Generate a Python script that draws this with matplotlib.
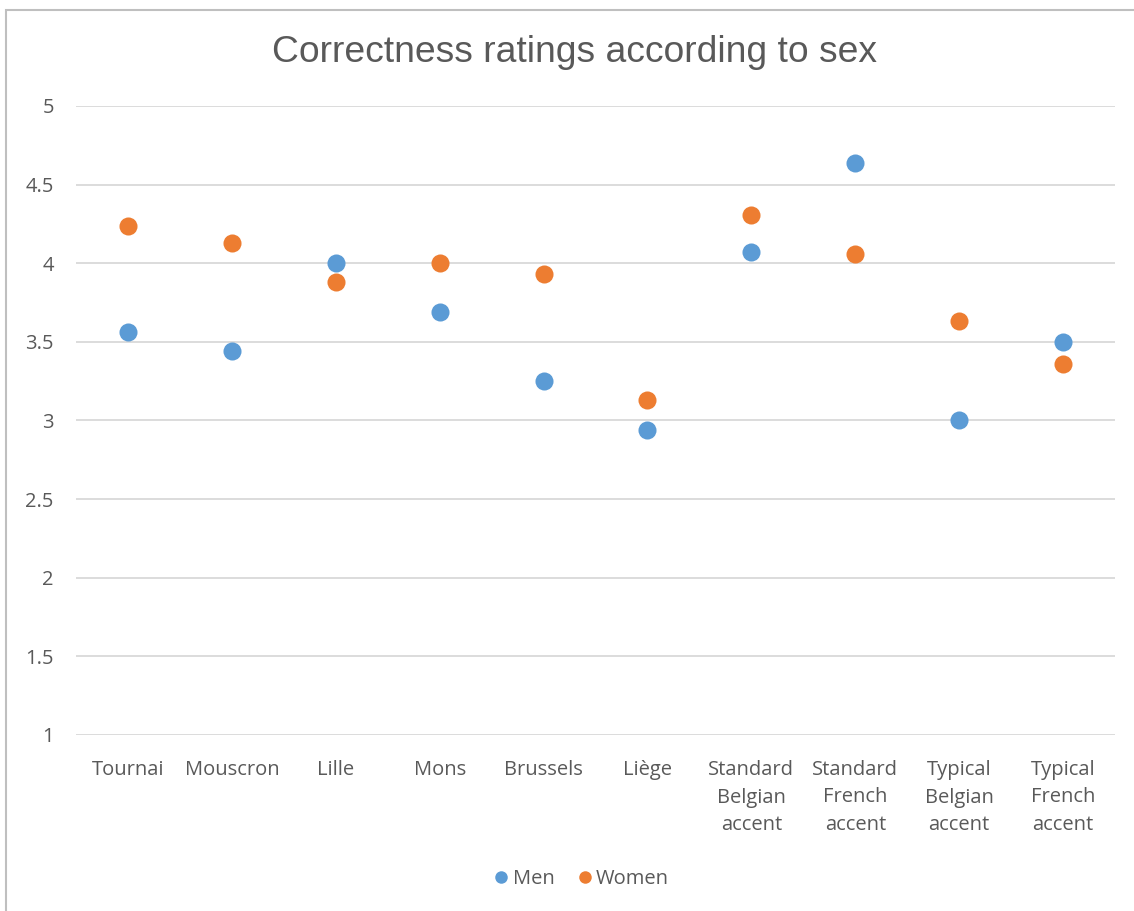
import matplotlib
matplotlib.use("Agg")
import matplotlib.pyplot as plt
from matplotlib.lines import Line2D
from matplotlib.patches import Rectangle

categories = ["Tournai", "Mouscron", "Lille", "Mons", "Brussels", "Liège",
              "Standard\nBelgian\naccent", "Standard\nFrench\naccent",
              "Typical\nBelgian\naccent", "Typical\nFrench\naccent"]
men = [3.56, 3.44, 4.00, 3.69, 3.25, 2.94, 4.07, 4.64, 3.00, 3.50]
women = [4.24, 4.13, 3.88, 4.00, 3.93, 3.13, 4.31, 4.06, 3.63, 3.36]
y_ticks = [1, 1.5, 2, 2.5, 3, 3.5, 4, 4.5, 5]
y_labels = ["1", "1.5", "2", "2.5", "3", "3.5", "4", "4.5", "5"]

MEN_C = "#5B9BD5"
WOMEN_C = "#ED7D31"
TEXT_C = "#595959"
GRID_C = "#D9D9D9"
LABEL_FONT = ["Open Sans", "DejaVu Sans"]
TITLE_FONT = ["Liberation Sans", "DejaVu Sans"]

W, H = 1134, 911
fig = plt.figure(figsize=(W / 100, H / 100), dpi=100)

# chart frame
fig.patches.append(Rectangle((6 / W, -0.1), 2.0, (H - 10) / H + 0.1,
                             transform=fig.transFigure, fill=False,
                             edgecolor="#BFBFBF", linewidth=1.5))

left, right, top, bottom = 76, 1115, 106, 735
ax = fig.add_axes([left / W, 1 - bottom / H, (right - left) / W, (bottom - top) / H])

x = list(range(len(categories)))
ax.plot(x, men, linestyle="none", marker="o", markersize=13,
        color=MEN_C, markeredgewidth=0, zorder=3)
ax.plot(x, women, linestyle="none", marker="o", markersize=13,
        color=WOMEN_C, markeredgewidth=0, zorder=3)

ax.set_xlim(-0.5, len(categories) - 0.5)
ax.set_ylim(1, 5)
ax.set_yticks(y_ticks)
ax.set_yticklabels(y_labels)
ax.set_xticks(x)
ax.set_xticklabels(categories, linespacing=1.5)
ax.yaxis.grid(True, color=GRID_C, linewidth=1.3)
ax.set_axisbelow(True)
for s in ax.spines.values():
    s.set_visible(False)
ax.tick_params(axis="both", length=0, colors=TEXT_C, labelsize=14.5)
ax.tick_params(axis="y", pad=16)
ax.tick_params(axis="x", pad=18)
for lab in ax.get_xticklabels() + ax.get_yticklabels():
    lab.set_family(LABEL_FONT)

fig.text(575 / W, 1 - 52 / H, "Correctness ratings according to sex",
         ha="center", va="center", fontsize=26.8, color=TEXT_C, family=TITLE_FONT)

handles = [Line2D([], [], linestyle="none", marker="o", markersize=9,
                  color=MEN_C, markeredgewidth=0, label="Men"),
           Line2D([], [], linestyle="none", marker="o", markersize=9,
                  color=WOMEN_C, markeredgewidth=0, label="Women")]
leg = fig.legend(handles=handles, loc="center", bbox_to_anchor=(580 / W, 1 - 879 / H),
                 ncol=2, frameon=False, handletextpad=0.05, columnspacing=1.0,
                 handlelength=1.0, prop={"family": LABEL_FONT, "size": 14.5})
for t in leg.get_texts():
    t.set_color(TEXT_C)

fig.savefig("out.png", dpi=100, facecolor="white")
